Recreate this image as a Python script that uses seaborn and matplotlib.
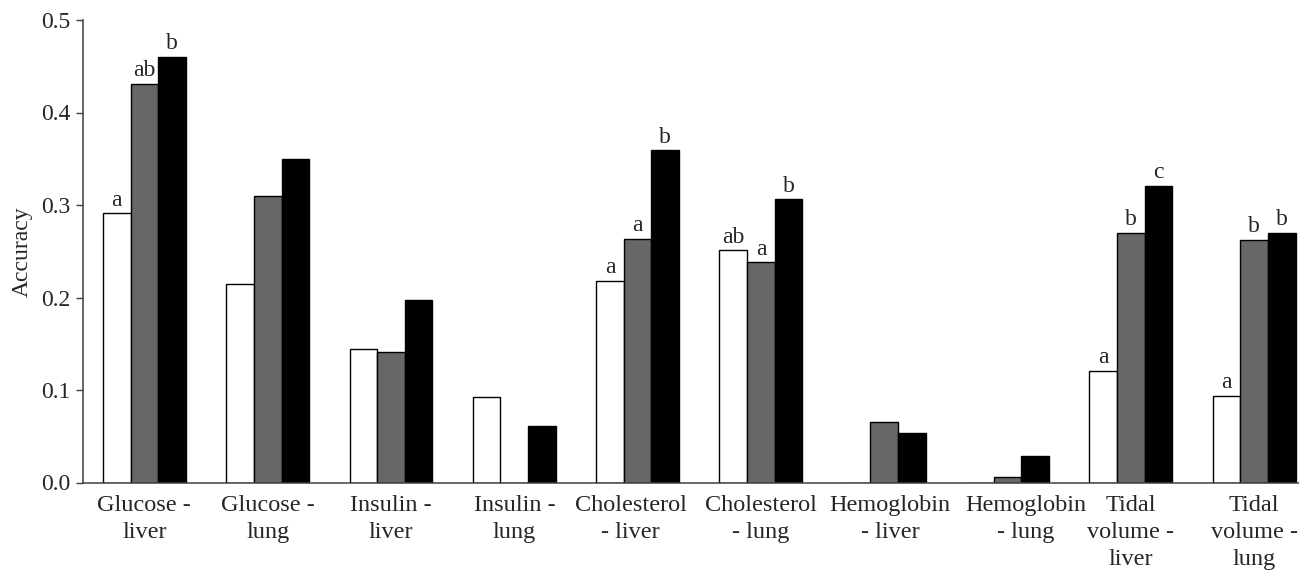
import matplotlib
matplotlib.use("Agg")
import matplotlib.pyplot as plt
import matplotlib.transforms as mtransforms
import seaborn as sns
import pandas as pd

# ---- data ----
categories = [
    "Glucose -\nliver", "Glucose -\nlung", "Insulin -\nliver", "Insulin -\nlung",
    "Cholesterol\n- liver", "Cholesterol\n- lung", "Hemoglobin\n- liver",
    "Hemoglobin\n- lung", "Tidal\nvolume -\nliver", "Tidal\nvolume -\nlung",
]
series_names = ["Group 1", "Group 2", "Group 3"]
values_white = [0.291, 0.215, 0.144, 0.092, 0.218, 0.251, 0.0, 0.0, 0.121, 0.094]
values_gray = [0.431, 0.310, 0.141, 0.0, 0.263, 0.238, 0.065, 0.006, 0.270, 0.262]
values_black = [0.460, 0.350, 0.197, 0.061, 0.359, 0.306, 0.053, 0.029, 0.321, 0.270]
letters_white = ["a", "", "", "", "a", "ab", "", "", "a", "a"]
letters_gray = ["ab", "", "", "", "a", "a", "", "", "b", "b"]
letters_black = ["b", "", "", "", "b", "b", "", "", "c", "b"]
y_ticks = [0.0, 0.1, 0.2, 0.3, 0.4, 0.5]

rows = []
for name, vals in zip(series_names, [values_white, values_gray, values_black]):
    for cat, v in zip(categories, vals):
        rows.append({"category": cat, "accuracy": v, "group": name})
df = pd.DataFrame(rows)

sns.set_style("white")
plt.rcParams["font.family"] = ["Liberation Serif", "DejaVu Serif"]

fig = plt.figure(figsize=(12.99, 5.71), dpi=100)
ax = fig.add_axes([82.7 / 1299, 88.5 / 571, 1 - 82.7 / 1299, (482.5 - 20) / 571])

sns.barplot(
    data=df, x="category", y="accuracy", hue="group",
    order=categories, hue_order=series_names,
    palette=["#ffffff", "#676767", "#000000"],
    edgecolor="black", linewidth=1.0, width=0.673, saturation=1,
    legend=False, ax=ax,
)

for cont, labs in zip(ax.containers, [letters_white, letters_gray, letters_black]):
    ax.bar_label(cont, labels=labs, padding=2, fontsize=17)

ax.set_xlim(-0.5, 9.363)
ax.set_ylim(0, 0.5)
ax.set_yticks(y_ticks)
ax.set_yticklabels([f"{t:.1f}" for t in y_ticks])
ax.set_xlabel("")
ax.set_ylabel("Accuracy", fontsize=17, labelpad=6)

for s in ["top", "right"]:
    ax.spines[s].set_visible(False)
for s in ["left", "bottom"]:
    ax.spines[s].set_color("#404040")
    ax.spines[s].set_linewidth(1.1)

ax.tick_params(axis="y", which="major", left=True, length=5, width=1.0,
               color="#404040", labelsize=17, pad=4)
ax.tick_params(axis="x", which="major", bottom=False, length=0, labelsize=17.5, pad=9)

# small horizontal nudges of crowded category labels (in points)
label_shift = {4: -5, 6: 4, 7: 13}
for i, lab in enumerate(ax.get_xticklabels()):
    lab.set_linespacing(1.37)
    if i in label_shift:
        off = mtransforms.ScaledTranslation(label_shift[i] / 72, 0, fig.dpi_scale_trans)
        lab.set_transform(lab.get_transform() + off)

fig.savefig("out.png", dpi=100, facecolor="white")
